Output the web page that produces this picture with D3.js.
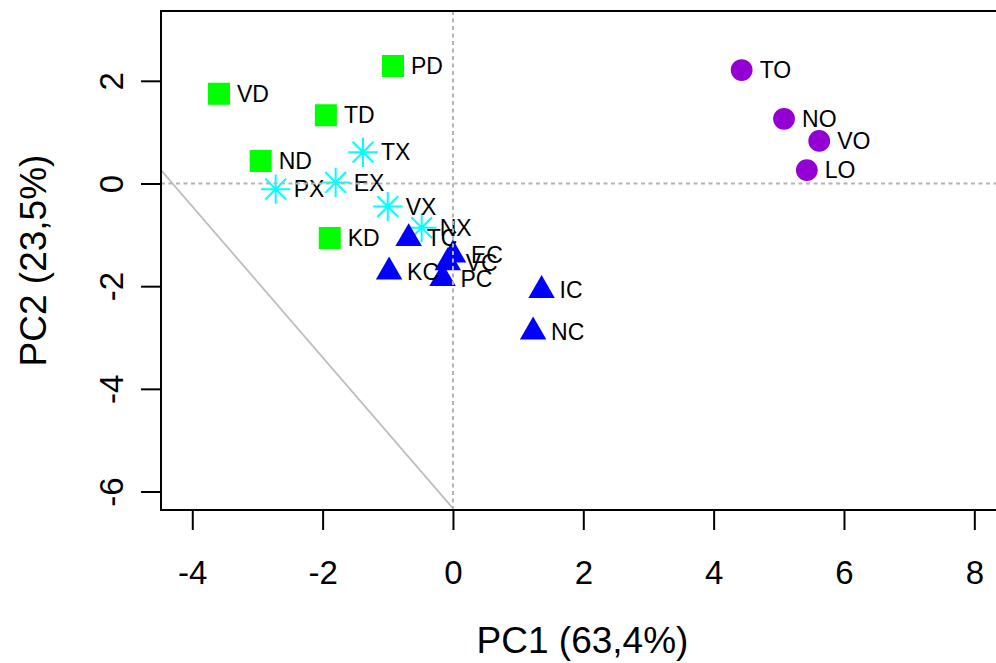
<!DOCTYPE html>
<html>
<head>
<meta charset="utf-8">
<script src="https://cdn.jsdelivr.net/npm/d3@7"></script>
<style>
  body { margin: 0; background: #fff; }
  text { font-family: "Liberation Sans", Arial, sans-serif; fill: #000; }
</style>
</head>
<body>
<div id="grafico"></div>
<script>
const width = 996;
const height = 663;

// datos
const nombres = ["VD", "PD", "TD", "ND", "KD",
                 "TX", "PX", "EX", "VX", "NX",
                 "TC", "KC", "EC", "VC", "PC", "IC", "NC",
                 "TO", "NO", "VO", "LO"];
const grupos = ["D", "D", "D", "D", "D",
                "X", "X", "X", "X", "X",
                "C", "C", "C", "C", "C", "C", "C",
                "O", "O", "O", "O"];
const pc1 = [-3.59, -0.92, -1.95, -2.95, -1.89,
             -1.38, -2.72, -1.80, -1.00, -0.48,
             -0.68, -0.98, 0.00, -0.08, -0.16, 1.36, 1.23,
             4.43, 5.08, 5.62, 5.43];
const pc2 = [1.75, 2.29, 1.33, 0.44, -1.06,
             0.61, -0.11, 0.02, -0.45, -0.86,
             -1.07, -1.72, -1.39, -1.54, -1.85, -2.08, -2.89,
             2.21, 1.26, 0.83, 0.26];

const xTicks = [-4, -2, 0, 2, 4, 6, 8];
const yTicks = [-6, -4, -2, 0, 2];
const xDominio = [-4.48, 8.48];
const yDominio = [-6.36, 3.36];
// segmento gris (coordenadas de datos)
const lineaGris = [[-4.48, 0.26], [0, -6.33]];

const tituloX = "PC1 (63,4%)";
const tituloY = "PC2 (23,5%)";

const colores = { D: "#00FF00", X: "#00FFFF", C: "#0000FF", O: "#9400D3" };

const margen = { left: 161, top: 11, bottom: 510, right: 1005.6 };

const x = d3.scaleLinear().domain(xDominio).range([margen.left, margen.right]);
const y = d3.scaleLinear().domain(yDominio).range([margen.bottom, margen.top]);

const svg = d3.select("#grafico").append("svg")
  .attr("width", width)
  .attr("height", height);

svg.append("rect").attr("width", width).attr("height", height).attr("fill", "#fff");

svg.append("defs").append("clipPath").attr("id", "recorte")
  .append("rect")
  .attr("x", margen.left).attr("y", margen.top)
  .attr("width", margen.right - margen.left)
  .attr("height", margen.bottom - margen.top);

const zona = svg.append("g").attr("clip-path", "url(#recorte)");

// linea gris diagonal
zona.append("line")
  .attr("x1", x(lineaGris[0][0])).attr("y1", y(lineaGris[0][1]))
  .attr("x2", x(lineaGris[1][0])).attr("y2", y(lineaGris[1][1]))
  .attr("stroke", "#bebebe")
  .attr("stroke-width", 1.8);

// asterisco estilo R (pch 8)
function asterisco(r) {
  const p = Math.SQRT2 * r;
  return `M${-p},0L${p},0M0,${-p}L0,${p}` +
         `M${-r},${-r}L${r},${r}M${-r},${r}L${r},${-r}`;
}

const datos = nombres.map((n, i) => ({ nombre: n, grupo: grupos[i], x: pc1[i], y: pc2[i] }));

zona.selectAll(".punto")
  .data(datos)
  .join("path")
  .attr("class", "punto")
  .attr("transform", d => `translate(${x(d.x)},${y(d.y)})`)
  .attr("d", d => {
    if (d.grupo === "D") return d3.symbol(d3.symbolSquare, 22 * 22)();
    if (d.grupo === "C") return d3.symbol(d3.symbolTriangle, 304)();
    if (d.grupo === "O") return d3.symbol(d3.symbolCircle, Math.PI * 10.9 * 10.9)();
    return asterisco(10.4);
  })
  .attr("fill", d => d.grupo === "X" ? "none" : colores[d.grupo])
  .attr("stroke", d => d.grupo === "X" ? colores[d.grupo] : "none")
  .attr("stroke-width", 2);

// etiquetas
zona.selectAll(".etiqueta")
  .data(datos)
  .join("text")
  .attr("class", "etiqueta")
  .attr("x", d => x(d.x) + 18)
  .attr("y", d => y(d.y))
  .attr("dy", "0.35em")
  .style("font-size", "23px")
  .text(d => d.nombre);

// lineas punteadas en 0
zona.append("line")
  .attr("x1", x(0)).attr("x2", x(0))
  .attr("y1", margen.top).attr("y2", margen.bottom)
  .attr("stroke", "#b4b4b4").attr("stroke-width", 2)
  .attr("stroke-dasharray", "4,3.5");
zona.append("line")
  .attr("x1", margen.left).attr("x2", margen.right)
  .attr("y1", y(0)).attr("y2", y(0))
  .attr("stroke", "#b4b4b4").attr("stroke-width", 2)
  .attr("stroke-dasharray", "4,3.5");

// marco
svg.append("rect")
  .attr("x", margen.left).attr("y", margen.top)
  .attr("width", margen.right - margen.left)
  .attr("height", margen.bottom - margen.top)
  .attr("fill", "none")
  .attr("stroke", "#000")
  .attr("stroke-width", 2);

// ejes
const fsTick = 33;
const ejeX = svg.append("g")
  .attr("transform", `translate(0,${margen.bottom})`)
  .call(d3.axisBottom(x).tickValues(xTicks).tickSize(20).tickSizeOuter(0).tickFormat(d3.format("d")));
ejeX.select(".domain").remove();
ejeX.selectAll(".tick line").attr("stroke", "#000").attr("stroke-width", 2);
ejeX.selectAll(".tick text")
  .attr("y", 62 + 0.358 * fsTick)
  .attr("dy", null)
  .style("font-size", fsTick + "px")
  .style("font-family", "'Liberation Sans', Arial, sans-serif")
  .text(d => String(d));

const ejeY = svg.append("g")
  .attr("transform", `translate(${margen.left},0)`)
  .call(d3.axisLeft(y).tickValues(yTicks).tickSize(20).tickSizeOuter(0).tickFormat(d3.format("d")));
ejeY.select(".domain").remove();
ejeY.selectAll(".tick line").attr("stroke", "#000").attr("stroke-width", 2);
ejeY.selectAll(".tick text")
  .attr("transform", "rotate(-90)")
  .attr("x", 0)
  .attr("y", -50 + 0.358 * fsTick)
  .attr("dy", null)
  .attr("text-anchor", "middle")
  .style("font-size", fsTick + "px")
  .style("font-family", "'Liberation Sans', Arial, sans-serif")
  .text(d => String(d));

// titulos
const fsTitulo = 37;
svg.append("text")
  .attr("x", (margen.left + 996) / 2 + 4)
  .attr("y", 640 + 0.358 * fsTitulo)
  .attr("text-anchor", "middle")
  .style("font-size", fsTitulo + "px")
  .text(tituloX);

svg.append("text")
  .attr("transform", `translate(${33 + 0.358 * fsTitulo},${(margen.top + margen.bottom) / 2}) rotate(-90)`)
  .attr("text-anchor", "middle")
  .style("font-size", fsTitulo + "px")
  .text(tituloY);
</script>
</body>
</html>
